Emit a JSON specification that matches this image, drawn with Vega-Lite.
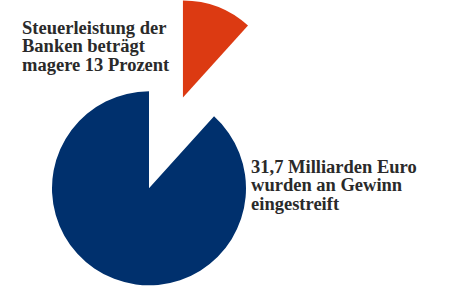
{
  "$schema": "https://vega.github.io/schema/vega-lite/v6.json",
  "width": 450,
  "height": 290,
  "autosize": {"type": "fit", "contains": "padding"},
  "padding": 0,
  "background": "white",
  "config": {"view": {"stroke": null}},
  "layer": [
    {
      "data": {"values": [
        {"part": "Steuer", "value": 11.7, "u": 0.35, "v": 0.94, "ord": 1},
        {"part": "Gewinn", "value": 88.3, "u": 0, "v": 0, "ord": 2}
      ]},
      "mark": {"type": "arc", "radius": 97},
      "encoding": {
        "theta": {"field": "value", "type": "quantitative", "stack": true},
        "order": {"field": "ord"},
        "x": {"field": "u", "type": "quantitative", "scale": {"domain": [-1.536, 3.103], "nice": false, "zero": false}, "axis": null},
        "y": {"field": "v", "type": "quantitative", "scale": {"domain": [-1.052, 1.938], "nice": false, "zero": false}, "axis": null},
        "color": {"field": "part", "type": "nominal", "scale": {"domain": ["Steuer", "Gewinn"], "range": ["#DC3A12", "#00306D"]}, "legend": null}
      }
    },
    {
      "data": {"values": [
        {"lines": ["Steuerleistung der", "Banken beträgt", "magere 13 Prozent"], "u": -1.309, "v": 1.755},
        {"lines": ["31,7 Milliarden Euro", "wurden an Gewinn", "eingestreift"], "u": 1.052, "v": 0.315}
      ]},
      "mark": {"type": "text", "align": "left", "baseline": "top", "font": "Liberation Serif", "fontWeight": "bold", "fontSize": 18.5, "lineHeight": 18.5, "color": "#2a2a2a"},
      "encoding": {
        "x": {"field": "u", "type": "quantitative"},
        "y": {"field": "v", "type": "quantitative"},
        "text": {"field": "lines"}
      }
    }
  ]
}
